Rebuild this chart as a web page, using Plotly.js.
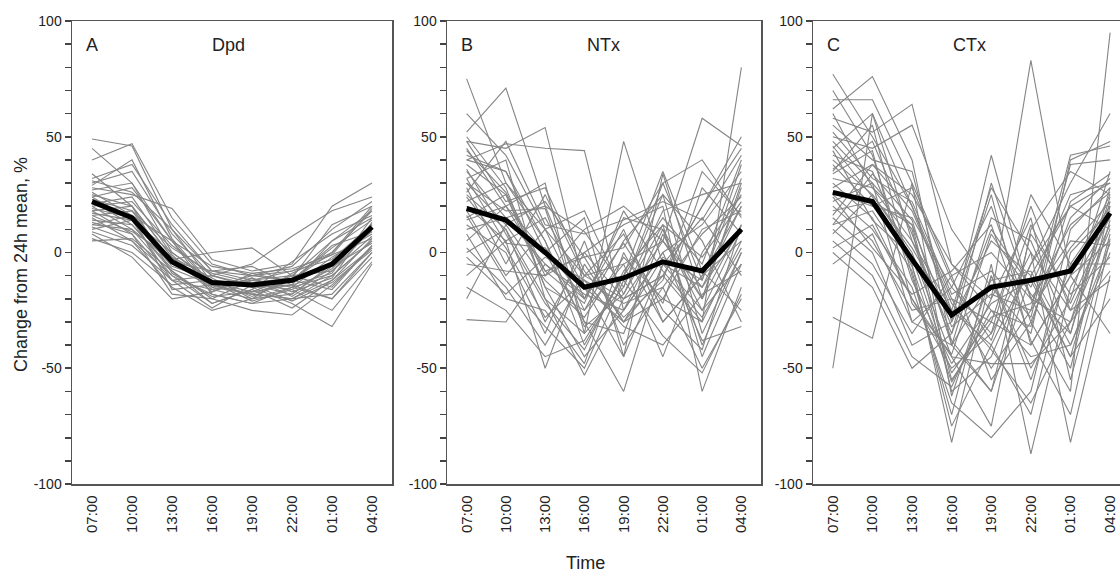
<!DOCTYPE html>
<html>
<head>
<meta charset="utf-8">
<script src="https://cdn.plot.ly/plotly-3.0.1.min.js"></script>
<style>html,body{margin:0;padding:0;background:#fff;}#chart{width:1120px;height:574px;}</style>
</head>
<body>
<div id="chart"></div>
<script>
const times = ["07:00","10:00","13:00","16:00","19:00","22:00","01:00","04:00"];
const panelLetters = ["A","B","C"];
const panelNames = ["Dpd","NTx","CTx"];
const yTickValues = [-100, -90, -80, -70, -60, -50, -40, -30, -20, -10, 0, 10, 20, 30, 40, 50, 60, 70, 80, 90, 100];
const yTickLabels = ["-100", "", "", "", "", "-50", "", "", "", "", "0", "", "", "", "", "50", "", "", "", "", "100"];
const yTitle = "Change from 24h mean, %";
const xTitle = "Time";

const dpdMean = [22, 15, -4, -13, -14, -12, -5, 11];
const ntxMean = [19, 14, 0, -15, -11, -4, -8, 10];
const ctxMean = [26, 22, -3, -27, -15, -12, -8, 17];

const dpdSubjects = [
  [49, 46, 10, -8, -12, -15, -10, 5],
  [45, 30, 5, -15, -18, -20, -12, 2],
  [40, 47, 15, -5, -10, -12, 0, 18],
  [32, 38, 12, -8, -10, -6, 10, 22],
  [30, 35, 8, -10, -15, -14, 5, 15],
  [28, 25, 19, -3, -8, -5, 20, 30],
  [27, 30, 0, -12, -14, -18, -5, 12],
  [25, 20, -2, -15, -10, -8, 0, 20],
  [24, 28, 5, -18, -22, -15, -2, 8],
  [23, 18, -5, -14, -18, -20, -10, 5],
  [22, 12, -8, -20, -12, -10, -15, 3],
  [20, 22, 3, -10, -5, 7, 18, 24],
  [20, 10, -10, -22, -16, -24, -12, 6],
  [19, 15, -3, 0, 2, -10, -8, 10],
  [18, 8, -12, -16, -20, -15, -20, 0],
  [17, 14, -6, -12, -15, -22, -32, -5],
  [16, 18, 2, -9, -13, -12, 2, 14],
  [15, 5, -15, -25, -20, -18, -6, 4],
  [14, 12, -7, -14, -12, -8, -3, 12],
  [13, 8, -18, -20, -25, -27, -14, 2],
  [12, 10, -4, -8, -6, -14, -20, -2],
  [11, 5, -10, -18, -22, -20, -18, 0],
  [10, 14, 0, -13, -17, -10, 5, 18],
  [9, 3, -12, -24, -14, -16, -25, -4],
  [8, -2, -20, -17, -11, -19, -8, 7],
  [6, 0, -14, -12, -19, -12, -16, 3],
  [5, 6, -8, -22, -16, -4, 8, 16],
  [26, 16, 5, -6, -9, -13, -4, 9],
  [21, 24, -1, -16, -11, -17, -11, 13],
  [34, 20, -2, -11, -20, -9, -1, 6],
  [29, 40, 6, -14, -13, -11, 12, 20],
  [18, 20, -9, -19, -17, -14, -9, 15],
  [24, 14, -12, -10, -14, -21, -13, 1],
  [16, 9, -2, -17, -9, -7, -1, 19],
  [31, 26, 10, -13, -21, -16, -7, 11],
  [12, 16, -16, -14, -18, -12, 3, 9]
];

const ntxSubjects = [
  [75, 30, 10, -10, -20, 5, -15, 20],
  [52, 71, 20, -20, 10, -30, -10, 5],
  [40, 47, 45, 44, -25, 10, -40, 0],
  [48, 45, 54, -15, -30, -10, 20, 45],
  [45, 20, 30, -35, 48, -5, -25, 10],
  [42, 35, 0, 15, -45, 34, -20, 30],
  [38, 25, -10, 10, 20, 5, 58, 46],
  [35, 15, 20, 9, -15, 30, 40, 15],
  [32, 40, -20, -53, -20, -10, -30, 80],
  [30, 18, 19, -30, -60, -5, 15, -10],
  [28, -5, 25, -10, -5, -45, 0, 25],
  [25, 10, -30, 0, 12, 20, -60, -15],
  [22, 30, 5, -40, -10, 15, -5, 40],
  [20, 5, -50, -5, -30, -20, 10, 18],
  [18, -10, 10, -25, 5, 25, -35, 0],
  [15, 25, -15, -45, -25, 0, 12, 35],
  [12, 0, -35, 5, -40, -15, -50, -20],
  [10, 15, -5, -20, 15, 10, -20, 28],
  [8, -20, -25, -48, 0, -30, -10, 20],
  [5, 20, 0, -30, -35, 8, -25, -5],
  [2, -15, -40, -10, 8, -25, -42, 12],
  [0, 10, -20, -35, -15, 25, 5, -30],
  [-5, -8, -10, 0, -20, -10, 20, 50],
  [-10, 5, 15, -15, -45, -5, -15, 10],
  [-15, -25, -45, -38, -10, 35, -8, -25],
  [-20, 12, -12, -28, -2, -20, -30, 5],
  [-29, -30, -5, -18, -25, 0, -38, -32],
  [60, 42, 10, 18, -18, 18, 25, 30],
  [48, 22, 28, -8, -28, -12, 35, 16],
  [36, 8, -22, -42, -8, 12, -2, 22],
  [26, 48, 12, 8, 14, 22, 14, 42],
  [16, -12, -32, -50, -12, -36, -52, -18],
  [44, 26, -8, -22, 18, -8, -28, 2],
  [-2, -18, -2, -12, -32, -40, -18, -8],
  [30, 12, 22, -2, 2, 30, -12, 32],
  [50, 28, -15, -25, -5, 5, -20, 12],
  [24, 2, -28, -12, -22, -15, 8, 24],
  [40, 35, 5, -32, -18, 12, -45, -5],
  [14, 20, -8, -2, -30, -2, -12, 38],
  [32, 4, 2, -20, 4, -22, 28, 8]
];

const ctxSubjects = [
  [77, 50, 20, -20, -30, -40, -10, 25],
  [66, 66, 30, -10, 0, -20, -30, 10],
  [62, 76, 40, -40, -60, -10, 20, 30],
  [58, 52, 64, -5, -20, 83, -10, 5],
  [55, 40, 35, -30, 42, -20, -50, 20],
  [50, 45, 55, 10, -15, -35, 40, 48],
  [48, 30, 10, -60, -45, -5, 30, 60],
  [45, 60, 20, -25, 28, 0, -82, -10],
  [42, 35, -5, -82, -10, -50, -20, 35],
  [40, 25, 0, -45, -75, 10, 35, 25],
  [38, 20, 15, -15, 20, -30, -60, 95],
  [35, 55, -10, -70, -5, -87, -15, 15],
  [32, 28, 5, -35, 10, -15, 25, 30],
  [30, 15, -20, -50, -35, 25, -5, -5],
  [28, 38, 25, -5, -25, -45, -40, 0],
  [25, 10, -15, -65, -80, -60, 10, 28],
  [22, 30, -30, -40, 15, 5, -35, 22],
  [20, 5, -25, -20, -50, -25, 42, 46],
  [18, 22, 12, -55, -30, 20, -25, 12],
  [15, 0, -40, -30, 5, -10, -45, -20],
  [12, 18, -8, -75, -40, -70, 0, 18],
  [10, -5, -35, -10, -55, -30, 15, 32],
  [8, 25, 2, -28, 25, -40, -10, -35],
  [5, -10, -45, -58, -20, 15, -55, 8],
  [2, 12, -20, -45, -48, -48, -30, 24],
  [0, -15, -50, -35, 30, -20, 5, 3],
  [-5, 8, -30, -15, -35, 0, -25, -12],
  [-28, -37, 30, -62, -10, -55, -5, 20],
  [-50, 60, 5, -25, -40, -5, 20, 10],
  [70, 42, -12, -48, -22, -12, -45, 14],
  [52, 32, 22, -18, -8, -28, 38, 40],
  [36, 48, 8, -38, -60, 8, -18, -2],
  [24, 2, -18, -8, 12, -38, -70, 6],
  [44, 14, -2, -52, -28, -22, 12, 26],
  [16, 38, 18, -22, -42, -65, -30, -8],
  [60, 28, 12, -32, -18, -25, 2, 22],
  [34, 44, -22, -44, 8, -18, -35, 28],
  [26, 20, 28, -12, -38, 12, -22, 16],
  [46, 24, -6, -56, -25, -32, 22, 34],
  [12, 34, 14, -40, -12, -8, -40, 4]
];

const W = 1120, H = 574;
const FONT = "Liberation Sans, Arial, Helvetica, sans-serif";
const GRAY = "#858585";
const AXIS = "#444444";

const subjectsByPanel = [dpdSubjects, ntxSubjects, ctxSubjects];
const meansByPanel = [dpdMean, ntxMean, ctxMean];

const traces = [];
subjectsByPanel.forEach((subs, p) => {
  const sfx = p === 0 ? "" : String(p + 1);
  subs.forEach(s => {
    traces.push({x: times, y: s, xaxis: "x" + sfx, yaxis: "y" + sfx, type: "scatter", mode: "lines",
      line: {color: GRAY, width: 1.1}, hoverinfo: "skip", showlegend: false});
  });
  traces.push({x: times, y: meansByPanel[p], xaxis: "x" + sfx, yaxis: "y" + sfx, type: "scatter", mode: "lines",
    line: {color: "#000000", width: 5}, hoverinfo: "skip", showlegend: false});
});

// pixel frame of each panel
const frames = [
  {l: 72, r: 392, range: [-0.5, 7.5], mirrorY: true},
  {l: 447, r: 761, range: [-0.5, 7.5], mirrorY: true},
  {l: 813, r: 1120, range: [-0.5, 7.25], mirrorY: false}
];
const plotTop = 21, plotBottom = 484;
const yDom = [1 - plotBottom / H, 1 - plotTop / H];

const layout = {
  width: W, height: H,
  margin: {l: 0, r: 0, t: 0, b: 0, pad: 0},
  paper_bgcolor: "#ffffff", plot_bgcolor: "#ffffff",
  font: {family: FONT, color: "#222"},
  showlegend: false,
  annotations: []
};

frames.forEach((f, p) => {
  const sfx = p === 0 ? "" : String(p + 1);
  layout["xaxis" + sfx] = {
    domain: [f.l / W, f.r / W], anchor: "y" + sfx,
    type: "category", categoryorder: "array", categoryarray: times,
    range: f.range, showgrid: false, zeroline: false,
    showline: true, linecolor: "#555555", linewidth: 1.5, mirror: true,
    ticks: "", tickangle: -90, ticklabelstandoff: 4,
    tickfont: {family: FONT, size: 15, color: "#222"}
  };
  layout["yaxis" + sfx] = {
    domain: yDom, anchor: "x" + sfx,
    range: [-100, 100], showgrid: false, zeroline: false,
    showline: true, linecolor: "#555555", linewidth: 1.5, mirror: f.mirrorY,
    tickmode: "array", tickvals: yTickValues, ticktext: yTickLabels,
    ticks: "outside", ticklen: 6, tickwidth: 1.6, tickcolor: AXIS,
    tickfont: {family: FONT, size: 14, color: "#222"}
  };
  layout.annotations.push({xref: "paper", yref: "paper", x: (f.l + 20) / W, y: 1 - 45 / H,
    text: panelLetters[p], showarrow: false, xanchor: "center", yanchor: "middle",
    font: {family: FONT, size: 18, color: "#222"}});
  layout.annotations.push({xref: "paper", yref: "paper", x: (f.l + 156) / W, y: 1 - 45 / H,
    text: panelNames[p], showarrow: false, xanchor: "center", yanchor: "middle",
    font: {family: FONT, size: 18, color: "#222"}});
});

layout.annotations.push({xref: "paper", yref: "paper", x: 21 / W, y: 1 - 265 / H,
  text: yTitle, textangle: -90, showarrow: false, xanchor: "center", yanchor: "middle",
  font: {family: FONT, size: 18, color: "#222"}});
layout.annotations.push({xref: "paper", yref: "paper", x: 585 / W, y: 1 - 563 / H,
  text: xTitle, showarrow: false, xanchor: "center", yanchor: "middle",
  font: {family: FONT, size: 18, color: "#222"}});

Plotly.newPlot("chart", traces, layout, {staticPlot: true, displayModeBar: false});
</script>
</body>
</html>
